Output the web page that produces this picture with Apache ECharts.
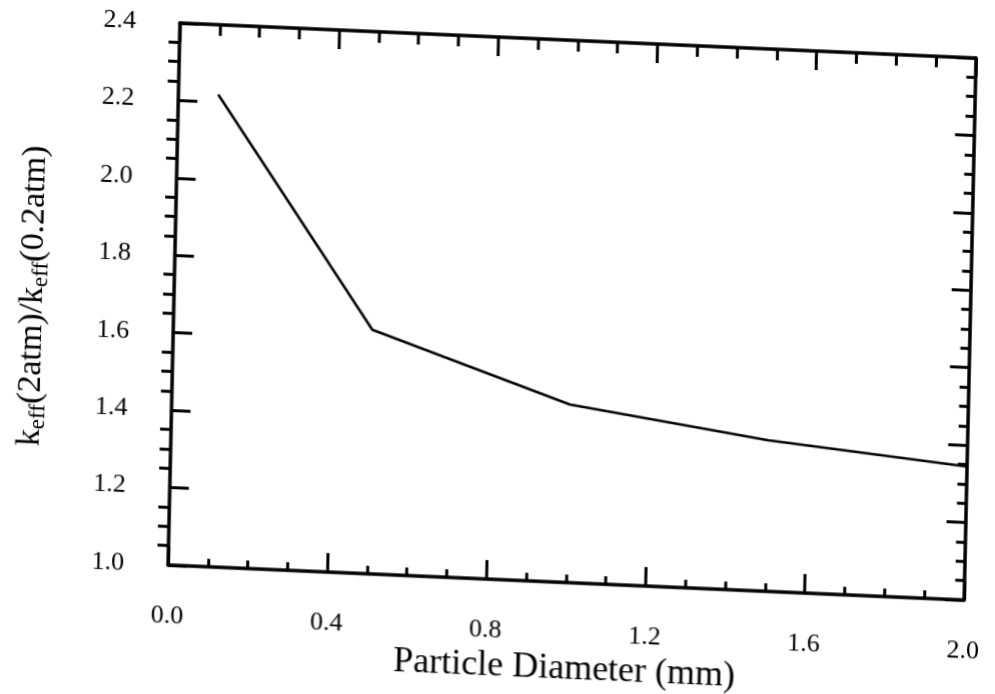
<!DOCTYPE html>
<html>
<head>
<meta charset="utf-8">
<script src="https://cdn.jsdelivr.net/npm/echarts@6/dist/echarts.min.js"></script>
<style>
html, body {margin: 0; padding: 0; background: #fff; overflow: hidden;}
/* the scan is slightly rotated / skewed, pinned at the plot's top-left corner */
#main {width: 995px; height: 694px; transform-origin: 180px 23px; transform: matrix(1, 0.044, -0.022, 1, 0, 0);}
</style>
</head>
<body>
<div id="main"></div>
<script>
var diameter = [0.1, 0.5, 1.0, 1.5, 2.0];
var ratio = [2.22, 1.63, 1.46, 1.39, 1.345];
var xTicks = [0.0, 0.4, 0.8, 1.2, 1.6, 2.0];
var yTicks = [1.0, 1.2, 1.4, 1.6, 1.8, 2.0, 2.2, 2.4];

var serif = 'Liberation Serif';
var ink = '#000';

function fmt(v){
    return Number(v).toFixed(1);
}

function ticks(){ return {show: true, inside: true, length: 19, lineStyle: {color: ink, width: 3}}; }
function minor(len){ return {show: true, splitNumber: 4, length: len, lineStyle: {color: ink, width: 3}}; }
function line(){ return {show: true, onZero: false, lineStyle: {color: ink, width: 3.5}}; }

var chart = echarts.init(document.getElementById('main'));

var option = {
    animation: false,
    backgroundColor: '#fff',
    grid: {left: 180, top: 23, width: 803, height: 542},
    xAxis: [
        {
            type: 'value',
            min: xTicks[0],
            max: xTicks[xTicks.length - 1],
            interval: 0.4,
            name: 'Particle Diameter (mm)',
            nameLocation: 'middle',
            nameGap: 62,
            nameTextStyle: {fontFamily: serif, fontSize: 36, color: ink},
            axisLine: line(),
            axisTick: ticks(),
            minorTick: minor(8),
            splitLine: {show: false},
            axisLabel: {fontFamily: serif, fontSize: 26, color: ink, margin: 38, formatter: fmt}
        },
        {
            type: 'value',
            position: 'top',
            min: xTicks[0],
            max: xTicks[xTicks.length - 1],
            interval: 0.4,
            axisLine: line(),
            axisTick: ticks(),
            minorTick: minor(11),
            splitLine: {show: false},
            axisLabel: {show: false}
        }
    ],
    yAxis: [
        {
            type: 'value',
            min: yTicks[0],
            max: yTicks[yTicks.length - 1],
            interval: 0.2,
            name: 'k{sub|eff}(2atm)/k{sub|eff}(0.2atm)',
            nameLocation: 'middle',
            nameRotate: 90,
            nameGap: 122,
            nameTextStyle: {
                fontFamily: serif, fontSize: 34, color: ink, padding: [0, 16, 0, 0],
                rich: {sub: {fontFamily: serif, fontSize: 23, color: ink, padding: [15, 0, 0, 0]}}
            },
            axisLine: line(),
            axisTick: ticks(),
            // minor ticks on this side come out flipped, hence the negative length
            minorTick: minor(-11),
            splitLine: {show: false},
            axisLabel: {fontFamily: serif, fontSize: 26, color: ink, margin: 44, formatter: fmt}
        },
        {
            type: 'value',
            position: 'right',
            min: yTicks[0],
            max: yTicks[yTicks.length - 1],
            interval: 0.2,
            axisLine: line(),
            axisTick: ticks(),
            minorTick: minor(9),
            splitLine: {show: false},
            axisLabel: {show: false}
        }
    ],
    series: [{
        type: 'line',
        data: diameter.map(function (d, i) { return [d, ratio[i]]; }),
        showSymbol: false,
        symbol: 'none',
        lineStyle: {color: ink, width: 2.6}
    }]
};

chart.setOption(option);
</script>
</body>
</html>
